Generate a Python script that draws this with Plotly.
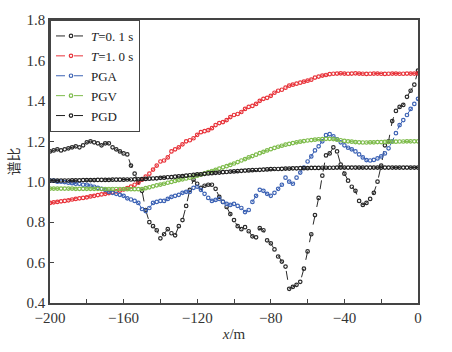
import plotly.graph_objects as go

x_m = list(range(-200, 1, 2))

t01 = [1.15, 1.155, 1.16, 1.155, 1.16, 1.165, 1.17, 1.175, 1.17, 1.18,
       1.195, 1.2, 1.195, 1.19, 1.18, 1.19, 1.19, 1.17, 1.16, 1.15,
       1.14, 1.135, 1.08, 1.04, 1.0, 0.955, 0.86, 0.80, 0.78, 0.76,
       0.72, 0.74, 0.765, 0.745, 0.735, 0.78, 0.81, 0.88, 0.96, 1.01,
       0.99, 0.97, 0.98, 0.985, 0.985, 0.965, 0.925, 0.9, 0.875, 0.84,
       0.81, 0.78, 0.765, 0.775, 0.755, 0.73, 0.725, 0.77, 0.76, 0.71,
       0.695, 0.665, 0.63, 0.605, 0.58, 0.47, 0.48, 0.49, 0.505, 0.57,
       0.655, 0.74, 0.835, 0.92, 1.03, 1.13, 1.14, 1.17, 1.15, 1.085,
       1.04, 1.005, 0.975, 0.955, 0.905, 0.885, 0.895, 0.915, 0.945, 1.0,
       1.08, 1.18, 1.2, 1.3, 1.35, 1.37, 1.38, 1.42, 1.45, 1.48,
       1.55]

t10 = [0.895, 0.898, 0.90, 0.903, 0.905, 0.908, 0.912, 0.915, 0.918, 0.92,
       0.923, 0.927, 0.93, 0.934, 0.937, 0.94, 0.944, 0.948, 0.952, 0.956,
       0.962, 0.968, 0.976, 0.985, 0.995, 1.01, 1.025, 1.04, 1.06, 1.08,
       1.1, 1.105, 1.12, 1.15, 1.16, 1.17, 1.185, 1.2, 1.205, 1.215,
       1.232, 1.245, 1.25, 1.255, 1.265, 1.28, 1.29, 1.295, 1.305, 1.32,
       1.33, 1.335, 1.345, 1.36, 1.37, 1.375, 1.385, 1.4, 1.41, 1.415,
       1.425, 1.44, 1.45, 1.455, 1.465, 1.475, 1.48, 1.485, 1.49, 1.495,
       1.5, 1.505, 1.515, 1.52, 1.525, 1.528, 1.532, 1.534, 1.535, 1.536,
       1.535, 1.534, 1.535, 1.536, 1.535, 1.534, 1.533, 1.534, 1.535, 1.535,
       1.534, 1.533, 1.534, 1.535, 1.535, 1.534, 1.534, 1.535, 1.535, 1.535,
       1.536]

pga = [1.005, 1.005, 1.0, 1.0, 0.998, 0.995, 0.993, 0.99, 0.99, 0.985,
       0.985, 0.98, 0.975, 0.97, 0.965, 0.96, 0.95, 0.945, 0.94, 0.935,
       0.93, 0.918, 0.912, 0.905, 0.895, 0.865, 0.855, 0.87, 0.895, 0.9,
       0.905, 0.905, 0.915, 0.925, 0.93, 0.935, 0.945, 0.95, 0.95, 0.97,
       0.975, 0.96, 0.94, 0.92, 0.905, 0.91, 0.915, 0.9, 0.89, 0.885,
       0.89, 0.88, 0.87, 0.85, 0.86, 0.9, 0.93, 0.96, 0.955, 0.94,
       0.93, 0.945, 0.965, 0.985, 1.02, 1.0, 0.99, 1.02, 1.045, 1.07,
       1.1, 1.125, 1.155, 1.175, 1.2, 1.23, 1.235, 1.225, 1.21, 1.195,
       1.18, 1.168, 1.16, 1.15, 1.135, 1.12, 1.107, 1.105, 1.108, 1.115,
       1.125, 1.14, 1.165, 1.2, 1.24, 1.28, 1.305, 1.33, 1.36, 1.385,
       1.41]

pgv = [0.966, 0.966, 0.966, 0.966, 0.966, 0.966, 0.966, 0.965, 0.965, 0.965,
       0.965, 0.965, 0.965, 0.965, 0.964, 0.964, 0.964, 0.964, 0.964, 0.964,
       0.964, 0.963, 0.963, 0.963, 0.963, 0.963, 0.968, 0.972, 0.977, 0.982,
       0.986, 0.99, 0.995, 0.999, 1.004, 1.008, 1.012, 1.016, 1.02, 1.025,
       1.03, 1.035, 1.041, 1.047, 1.053, 1.059, 1.065, 1.071, 1.077, 1.083,
       1.09, 1.097, 1.105, 1.112, 1.12, 1.127, 1.134, 1.141, 1.148, 1.155,
       1.161, 1.167, 1.173, 1.178, 1.183, 1.187, 1.191, 1.195, 1.198, 1.201,
       1.204, 1.206, 1.208, 1.21, 1.211, 1.212, 1.212, 1.211, 1.208, 1.205,
       1.202, 1.2, 1.198, 1.196, 1.195, 1.194, 1.194, 1.195, 1.195, 1.196,
       1.196, 1.197, 1.197, 1.198, 1.198, 1.199, 1.199, 1.2, 1.2, 1.2,
       1.2]

pgd = [1.005, 1.005, 1.005, 1.006, 1.006, 1.006, 1.007, 1.007, 1.007, 1.008,
       1.008, 1.008, 1.008, 1.009, 1.009, 1.009, 1.009, 1.01, 1.01, 1.01,
       1.01, 1.011, 1.011, 1.012, 1.012, 1.013, 1.014, 1.015, 1.016, 1.017,
       1.019, 1.02, 1.022, 1.023, 1.025, 1.027, 1.028, 1.03, 1.032, 1.034,
       1.036, 1.037, 1.039, 1.041, 1.042, 1.044, 1.045, 1.047, 1.048, 1.05,
       1.051, 1.052, 1.054, 1.055, 1.056, 1.057, 1.058, 1.059, 1.06, 1.061,
       1.062, 1.063, 1.063, 1.064, 1.065, 1.065, 1.066, 1.066, 1.067, 1.067,
       1.067, 1.068, 1.068, 1.068, 1.069, 1.069, 1.069, 1.069, 1.07, 1.07,
       1.07, 1.07, 1.07, 1.07, 1.07, 1.07, 1.07, 1.07, 1.07, 1.07,
       1.07, 1.07, 1.07, 1.07, 1.07, 1.07, 1.07, 1.07, 1.07, 1.07,
       1.07]

series = [
    ("<i>T</i>=0. 1 s", t01, "#2a2a2a"),
    ("<i>T</i>=1. 0 s", t10, "#e8333a"),
    ("PGA", pga, "#3d63b5"),
    ("PGV", pgv, "#7dbb4a"),
    ("PGD", pgd, "#1e1e1e"),
]

fig = go.Figure()
for name, vals, col in series:
    fig.add_trace(go.Scatter(
        x=x_m, y=vals, name=name, mode="lines+markers",
        line=dict(color=col, width=1, dash="dash"),
        marker=dict(symbol="circle-open", size=3.5, color=col, line=dict(width=1.2, color=col)),
    ))

serif = "Liberation Serif, Times New Roman, serif"
axis_common = dict(
    showline=True, linecolor="#444", linewidth=1.5, mirror=True,
    ticks="inside", ticklen=4, tickcolor="#444", tickwidth=1,
    showgrid=False, zeroline=False,
    tickfont=dict(family=serif, size=15, color="#333"),
)

fig.update_xaxes(range=[-200, 0], dtick=40, tick0=0,
                 minor=dict(dtick=20, ticks="inside", ticklen=4, tickcolor="#444"),
                 title=dict(text="<i>x</i>/m", font=dict(family=serif, size=15, color="#333"), standoff=4),
                 **axis_common)
fig.update_yaxes(range=[0.4, 1.8], dtick=0.2, tickformat=".1f",
                 title=dict(text="谱比", font=dict(family="Noto Sans CJK SC", size=14, color="#333"), standoff=4),
                 **axis_common)

fig.update_layout(
    width=452, height=352,
    margin=dict(l=50, r=34, t=13, b=48),
    paper_bgcolor="white", plot_bgcolor="white",
    showlegend=True,
    legend=dict(x=0, y=1, xanchor="left", yanchor="top",
                bgcolor="white", bordercolor="#444", borderwidth=1,
                font=dict(family=serif, size=13, color="#222"),
                itemwidth=30, tracegroupgap=0),
)

fig.write_html("out.html")
